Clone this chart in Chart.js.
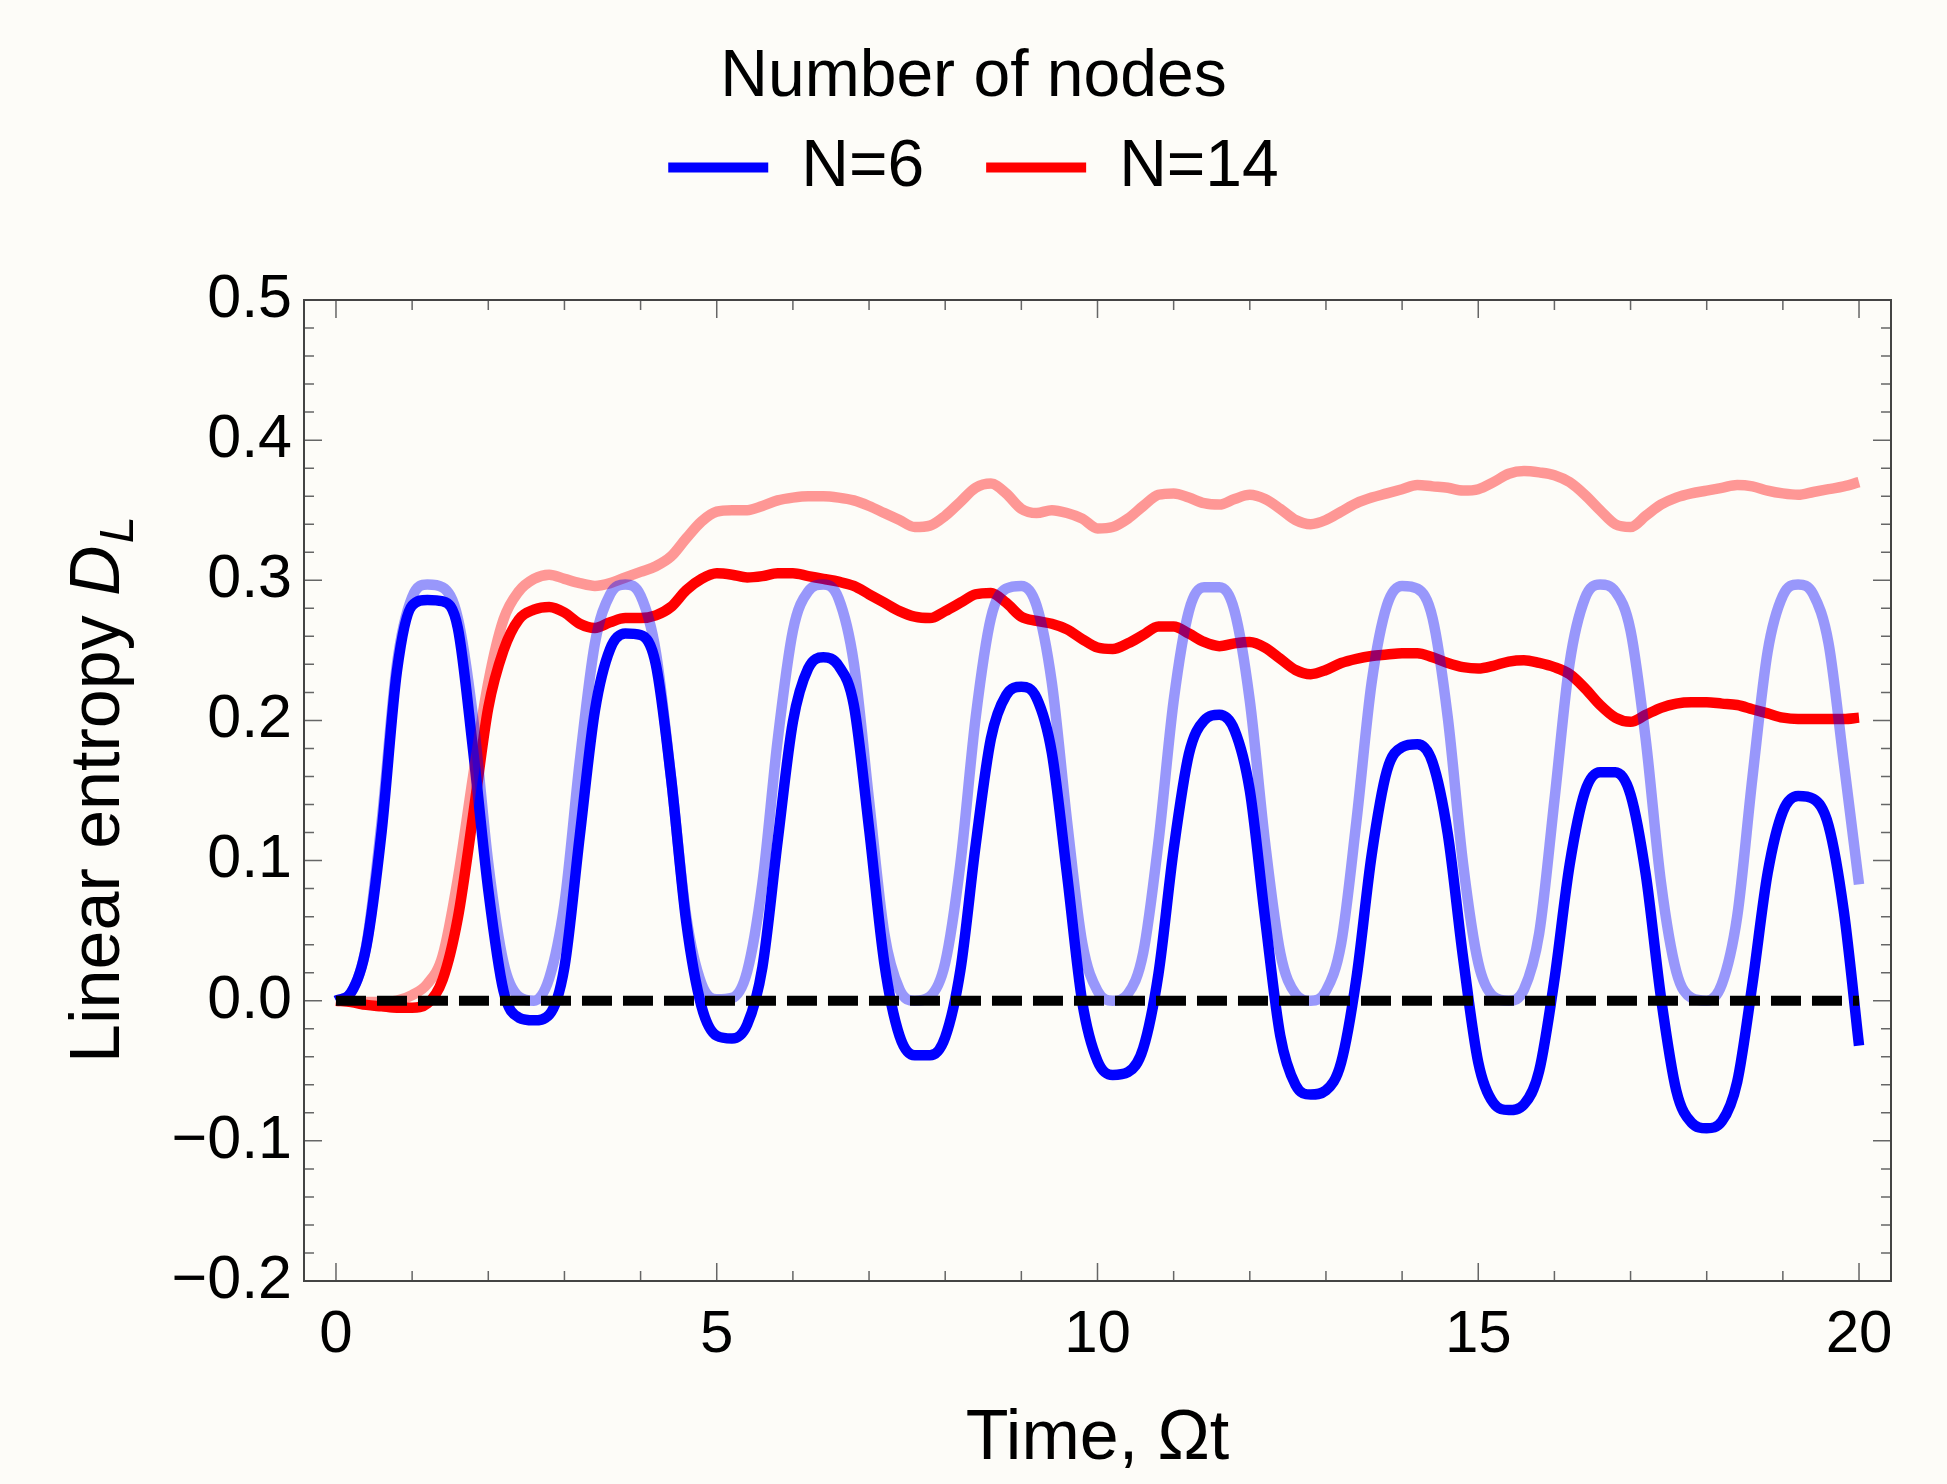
<!DOCTYPE html>
<html>
<head>
<meta charset="utf-8">
<script src="https://cdn.jsdelivr.net/npm/chart.js@4.4.1/dist/chart.umd.min.js"></script>
<style>
  html, body { margin: 0; padding: 0; background: #fdfcf8; }
  #wrap { width: 1947px; height: 1484px; }
</style>
</head>
<body>
<div id="wrap"><canvas id="chartEntropy"></canvas></div>
<script>
/* Time grid, Omega t */
const times = [
  0, 0.2, 0.4, 0.6, 0.8, 1, 1.2, 1.4, 1.6, 1.8, 2, 2.2, 2.4, 2.6, 2.8, 3, 3.2, 3.4, 3.6, 3.8,
  4, 4.2, 4.4, 4.6, 4.8, 5, 5.2, 5.4, 5.6, 5.8, 6, 6.2, 6.4, 6.6, 6.8, 7, 7.2, 7.4, 7.6, 7.8,
  8, 8.2, 8.4, 8.6, 8.8, 9, 9.2, 9.4, 9.6, 9.8, 10, 10.2, 10.4, 10.6, 10.8, 11, 11.2, 11.4, 11.6, 11.8,
  12, 12.2, 12.4, 12.6, 12.8, 13, 13.2, 13.4, 13.6, 13.8, 14, 14.2, 14.4, 14.6, 14.8, 15, 15.2, 15.4, 15.6, 15.8,
  16, 16.2, 16.4, 16.6, 16.8, 17, 17.2, 17.4, 17.6, 17.8, 18, 18.2, 18.4, 18.6, 18.8, 19, 19.2, 19.4, 19.6, 19.8, 20,
];

/* N=6, solid */
const entropyN6 = [
  0, 0.006, 0.039, 0.121, 0.235, 0.282, 0.286, 0.285, 0.266, 0.179, 0.079, 0.007, -0.012, -0.014, -0.010, 0.024, 0.117, 0.207, 0.251, 0.262,
  0.261, 0.240, 0.159, 0.056, -0.004, -0.025, -0.027, -0.017, 0.024, 0.114, 0.199, 0.237, 0.245, 0.239, 0.211, 0.123, 0.027, -0.025, -0.039, -0.039,
  -0.026, 0.022, 0.111, 0.187, 0.218, 0.224, 0.216, 0.177, 0.090, -0.001, -0.043, -0.053, -0.051, -0.034, 0.019, 0.108, 0.176, 0.200, 0.204, 0.193,
  0.150, 0.059, -0.025, -0.060, -0.067, -0.064, -0.044, 0.016, 0.104, 0.164, 0.181, 0.183, 0.170, 0.119, 0.031, -0.044, -0.073, -0.078, -0.074, -0.050,
  0.015, 0.097, 0.149, 0.163, 0.163, 0.147, 0.090, 0.002, -0.064, -0.087, -0.091, -0.086, -0.058, 0.012, 0.091, 0.135, 0.146, 0.144, 0.125, 0.064, -0.032,
];

/* N=6, faded */
const entropyN6Faded = [
  0, 0.006, 0.040, 0.128, 0.240, 0.288, 0.297, 0.295, 0.273, 0.202, 0.098, 0.027, 0.003, 0, 0.016, 0.069, 0.170, 0.255, 0.290, 0.297,
  0.289, 0.249, 0.159, 0.060, 0.012, 0.001, 0.002, 0.021, 0.084, 0.186, 0.264, 0.292, 0.297, 0.287, 0.241, 0.143, 0.048, 0.008, 0, 0.003,
  0.027, 0.098, 0.202, 0.273, 0.294, 0.296, 0.282, 0.227, 0.128, 0.041, 0.007, 0, 0.005, 0.034, 0.113, 0.214, 0.278, 0.295, 0.295, 0.278,
  0.214, 0.113, 0.034, 0.005, 0, 0.007, 0.041, 0.128, 0.227, 0.282, 0.296, 0.294, 0.273, 0.202, 0.098, 0.027, 0.003, 0, 0.008, 0.048,
  0.143, 0.241, 0.287, 0.297, 0.292, 0.264, 0.186, 0.084, 0.021, 0.002, 0, 0.012, 0.060, 0.159, 0.249, 0.289, 0.297, 0.290, 0.255, 0.170, 0.083,
];

/* N=14, solid */
const entropyN14 = [
  0, -0.001, -0.003, -0.004, -0.005, -0.005, -0.002, 0.015, 0.059, 0.132, 0.209, 0.250, 0.272, 0.279, 0.281, 0.277, 0.269, 0.266, 0.270, 0.273,
  0.273, 0.275, 0.281, 0.293, 0.301, 0.305, 0.304, 0.302, 0.303, 0.305, 0.305, 0.303, 0.301, 0.299, 0.296, 0.290, 0.284, 0.278, 0.274, 0.273,
  0.278, 0.284, 0.290, 0.291, 0.284, 0.274, 0.271, 0.269, 0.265, 0.258, 0.252, 0.251, 0.255, 0.261, 0.267, 0.267, 0.262, 0.256, 0.253, 0.255,
  0.256, 0.252, 0.244, 0.236, 0.233, 0.236, 0.241, 0.244, 0.246, 0.247, 0.248, 0.248, 0.245, 0.241, 0.238, 0.237, 0.239, 0.242, 0.243, 0.241,
  0.238, 0.233, 0.223, 0.211, 0.202, 0.199, 0.204, 0.209, 0.212, 0.213, 0.213, 0.212, 0.211, 0.208, 0.205, 0.202, 0.201, 0.201, 0.201, 0.201, 0.202,
];

/* N=14, faded */
const entropyN14Faded = [
  0, 0, -0.001, -0.001, 0, 0.004, 0.012, 0.032, 0.087, 0.160, 0.227, 0.272, 0.292, 0.301, 0.304, 0.301, 0.298, 0.296, 0.298, 0.302,
  0.306, 0.310, 0.317, 0.330, 0.342, 0.349, 0.350, 0.350, 0.353, 0.357, 0.359, 0.360, 0.360, 0.359, 0.357, 0.353, 0.348, 0.343, 0.338, 0.339,
  0.346, 0.356, 0.366, 0.369, 0.362, 0.351, 0.348, 0.350, 0.348, 0.344, 0.337, 0.338, 0.344, 0.353, 0.361, 0.362, 0.359, 0.355, 0.354, 0.358,
  0.361, 0.358, 0.351, 0.343, 0.340, 0.343, 0.349, 0.355, 0.359, 0.362, 0.365, 0.368, 0.367, 0.366, 0.364, 0.365, 0.370, 0.376, 0.378, 0.377,
  0.375, 0.370, 0.361, 0.350, 0.340, 0.338, 0.346, 0.354, 0.359, 0.362, 0.364, 0.366, 0.368, 0.367, 0.364, 0.362, 0.361, 0.363, 0.365, 0.367, 0.370,
];

/* Reference line */
const zeroLineT = [0, 20];
const zeroLineV = [0, 0];

const xTickValues = [0, 5, 10, 15, 20];
const yTickValues = [-0.2, -0.1, 0, 0.1, 0.2, 0.3, 0.4, 0.5];
const legendLabels = ['N=6', 'N=14'];

/* Styles */
const FONT = "'Liberation Sans', Arial, sans-serif";
const BG = '#fdfcf8';
const legendColors = ['#0000ff', '#ff0000'];

const toPoints = (xs, ys) => xs.map((x, i) => ({ x: x, y: ys[i] }));

/* Plugins */
const background = {
  id: 'background',
  beforeDraw: (chart) => {
    const ctx = chart.ctx;
    ctx.save();
    ctx.fillStyle = BG;
    ctx.fillRect(0, 0, chart.width, chart.height);
    ctx.restore();
  },
};

// legend block is taller than Chart.js would make it
const legendGap = {
  id: 'legendGap',
  beforeInit: (chart) => {
    const fit = chart.legend.fit;
    chart.legend.fit = function () {
      fit.call(this);
      this.height = 300;
    };
  },
};

// Mathematica style frame, ticks pointing inward on all sides
const frameTicks = {
  id: 'frameTicks',
  beforeDatasetsDraw: (chart) => {
    const { ctx, chartArea: a, scales: { x, y } } = chart;
    ctx.save();
    ctx.strokeStyle = '#666';
    ctx.lineWidth = 1.5;
    ctx.beginPath();
    for (let i = 0; i <= 20; i++) {
      const px = x.getPixelForValue(i);
      const len = i % 5 === 0 ? 18 : 10;
      ctx.moveTo(px, a.bottom);
      ctx.lineTo(px, a.bottom - len);
      ctx.moveTo(px, a.top);
      ctx.lineTo(px, a.top + len);
    }
    for (let j = -10; j <= 25; j++) {
      const py = y.getPixelForValue(j / 50);
      const len = j % 5 === 0 ? 18 : 10;
      ctx.moveTo(a.left, py);
      ctx.lineTo(a.left + len, py);
      ctx.moveTo(a.right, py);
      ctx.lineTo(a.right - len, py);
    }
    ctx.stroke();
    ctx.strokeStyle = '#444';
    ctx.lineWidth = 2;
    ctx.strokeRect(a.left, a.top, a.right - a.left, a.bottom - a.top);
    ctx.restore();
  },
};

// y title with italic D and subscript L
const yTitle = {
  id: 'yTitle',
  afterDraw: (chart) => {
    const { ctx, chartArea: a } = chart;
    const size = 70;
    const main = 'Linear entropy ';
    ctx.save();
    ctx.translate(100, (a.top + a.bottom) / 2);
    ctx.rotate(-Math.PI / 2);
    ctx.fillStyle = '#000';
    ctx.textBaseline = 'middle';
    ctx.textAlign = 'left';
    ctx.font = `${size}px ${FONT}`;
    const w1 = ctx.measureText(main).width;
    ctx.font = `italic ${size}px ${FONT}`;
    const w2 = ctx.measureText('D').width;
    ctx.font = `italic ${Math.round(size * 0.7)}px ${FONT}`;
    const w3 = ctx.measureText('L').width;
    let x0 = -(w1 + w2 + w3) / 2;
    ctx.font = `${size}px ${FONT}`;
    ctx.fillText(main, x0, 0);
    x0 += w1;
    ctx.font = `italic ${size}px ${FONT}`;
    ctx.fillText('D', x0, 0);
    x0 += w2;
    ctx.font = `italic ${Math.round(size * 0.7)}px ${FONT}`;
    ctx.fillText('L', x0 + 2, size * 0.28);
    ctx.restore();
  },
};

const lineStyle = (color) => ({
  borderColor: color,
  backgroundColor: color,
  borderWidth: 10.5,
  borderJoinStyle: 'round',
  borderCapStyle: 'butt',
  cubicInterpolationMode: 'monotone',
  pointRadius: 0,
  fill: false,
});

new Chart(document.getElementById('chartEntropy'), {
  type: 'line',
  data: {
    datasets: [
      {
        label: 'zero',
        data: toPoints(zeroLineT, zeroLineV),
        ...lineStyle('#000000'),
        borderWidth: 10,
        borderDash: [30, 11],
      },
      { label: 'N=6 faded', data: toPoints(times, entropyN6Faded), ...lineStyle('rgba(0,0,255,0.4)') },
      { label: 'N=14 faded', data: toPoints(times, entropyN14Faded), ...lineStyle('rgba(255,0,0,0.4)') },
      { label: 'N=6', data: toPoints(times, entropyN6), ...lineStyle('#0000ff') },
      { label: 'N=14', data: toPoints(times, entropyN14), ...lineStyle('#ff0000') },
    ],
  },
  options: {
    responsive: true,
    maintainAspectRatio: false,
    animation: false,
    layout: { padding: { left: 56, right: 56, top: 0, bottom: 0 } },
    plugins: {
      tooltip: { enabled: false },
      legend: {
        position: 'top',
        title: {
          display: true,
          text: 'Number of nodes',
          color: '#000',
          font: { family: FONT, size: 66 },
          padding: { top: 44.4, bottom: -51.1 },
        },
        labels: {
          color: '#000',
          font: { family: FONT, size: 66 },
          boxWidth: 100,
          boxHeight: 10,
          padding: 62,
          generateLabels: () =>
            legendLabels.map((text, i) => ({
              text: text,
              fillStyle: legendColors[i],
              strokeStyle: legendColors[i],
              lineWidth: 0,
              hidden: false,
              datasetIndex: i + 3,
            })),
        },
      },
    },
    scales: {
      x: {
        type: 'linear',
        min: -0.42,
        max: 20.42,
        grid: { display: false, drawTicks: false },
        border: { display: false },
        afterBuildTicks: (s) => {
          s.ticks = xTickValues.map((v) => ({ value: v }));
        },
        afterFit: (s) => {
          s.height = 203;
        },
        ticks: {
          color: '#000',
          font: { family: FONT, size: 60 },
          padding: 18,
          maxRotation: 0,
          autoSkip: false,
          callback: (v) => String(v),
        },
        title: {
          display: true,
          text: 'Time, \u03A9t',
          color: '#000',
          font: { family: FONT, size: 70 },
          padding: { top: 0, bottom: 2 },
        },
      },
      y: {
        type: 'linear',
        min: -0.2,
        max: 0.5,
        grid: { display: false, drawTicks: false },
        border: { display: false },
        afterBuildTicks: (s) => {
          s.ticks = yTickValues.map((v) => ({ value: v }));
        },
        afterFit: (s) => {
          s.width = 248;
        },
        ticks: {
          color: '#000',
          font: { family: FONT, size: 61 },
          padding: 12,
          callback: (v) => (v < -1e-9 ? '\u2212' : '') + Math.abs(v).toFixed(1),
        },
      },
    },
  },
  plugins: [background, legendGap, frameTicks, yTitle],
});
</script>
</body>
</html>
